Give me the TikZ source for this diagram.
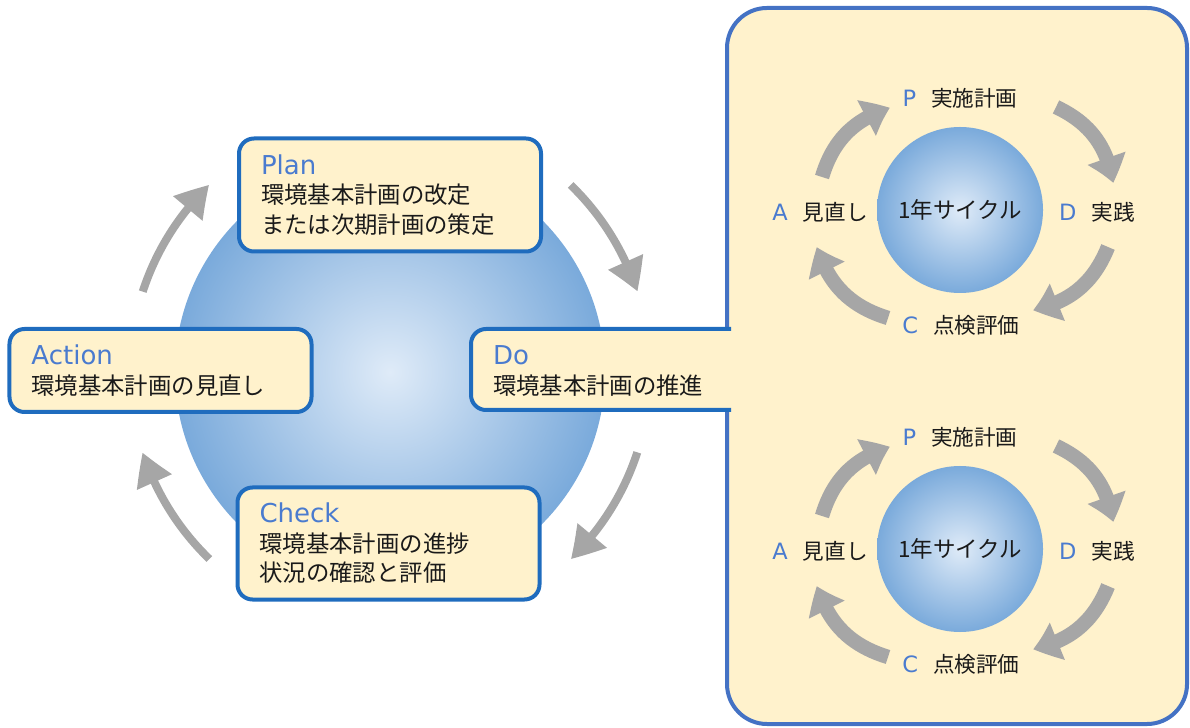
\documentclass[tikz,border=0pt]{standalone}
\usepackage{fontspec}
\setmainfont{Noto Sans CJK JP}
\newfontfamily\pdcalatin{DejaVu Sans}
\usepackage{tikz}
\usetikzlibrary{arrows.meta,bending}
\definecolor{PdcaBorder}{HTML}{1F6CBE}
\definecolor{PdcaFrame}{HTML}{4472C4}
\definecolor{PdcaLabel}{HTML}{4A7BCF}
\definecolor{PdcaFill}{HTML}{FFF2CC}
\definecolor{PdcaArrow}{HTML}{A6A6A6}
\definecolor{PdcaInner}{HTML}{DFEBF8}
\definecolor{PdcaOuter}{HTML}{7AAADB}
\definecolor{PdcaText}{HTML}{1A1A1A}
\newcommand{\pdcahead}[1]{{\pdcalatin\fontsize{14.8pt}{16.8pt}\selectfont\color{PdcaLabel}#1}}
\newcommand{\cycletag}[1]{{\pdcalatin\fontsize{12.8pt}{15pt}\selectfont\color{PdcaLabel}#1}\hspace{3mm}}

\begin{document}
\begin{tikzpicture}[x=0.2mm,y=0.2mm,
    box/.style={draw=PdcaBorder,line width=0.8mm,fill=PdcaFill,rounded corners=3mm,
      inner xsep=4.4mm,inner ysep=0pt,text width=51.6mm,align=left,text=PdcaText,
      font=\fontsize{13.3pt}{16.8pt}\selectfont},
    panel/.style={draw=PdcaFrame,line width=0.8mm,fill=PdcaFill,rounded corners=8mm},
    sphere/.style={circle,inner color=PdcaInner,outer color=PdcaOuter,inner sep=0pt},
    bigarrow/.style={PdcaArrow,line width=1.6mm,-{Triangle[width=7.2mm,length=6.4mm,bend]}},
    ringarrow/.style={PdcaArrow,line width=2.9mm,-{Triangle[width=7.6mm,length=5.2mm,bend]}},
    steplabel/.style={text=PdcaText,font=\fontsize{12.3pt}{14pt}\selectfont,inner sep=0pt}]
      \useasboundingbox (0,0) rectangle (1190,727);
      % main cycle
      \node[sphere,minimum size=86mm] (hub) at (390,355) {};
      \draw[bigarrow] ([shift={(162:260)}]hub.center) arc[start angle=162,end angle=134,radius=52mm];
      \draw[bigarrow] ([shift={(46:260)}]hub.center) arc[start angle=46,end angle=18,radius=52mm];
      \draw[bigarrow] ([shift={(-18:260)}]hub.center) arc[start angle=-18,end angle=-46,radius=52mm];
      \draw[bigarrow] ([shift={(-134:260)}]hub.center) arc[start angle=-134,end angle=-162,radius=52mm];
      \node[box,minimum height=22.6mm] (plan) at (390,532) {\pdcahead{Plan}\\環境基本計画の改定\\または次期計画の策定};
      \node[box,minimum height=16.6mm] (action) at (160.5,356.5) {\pdcahead{Action}\\環境基本計画の見直し};
      \node[box,minimum height=22.4mm] (check) at (388.5,183.5) {\pdcahead{Check}\\環境基本計画の進捗\\状況の確認と評価};
      % yearly panel and Do tab
      \node[panel,minimum width=92mm,minimum height=143.2mm] (panel) at (957,361) {};
      \filldraw[draw=PdcaBorder,line width=0.8mm,fill=PdcaFill,rounded corners=3mm]
        (731,398) -- (471,398) -- (471,317) -- (731,317);
      \node[box,draw=none,fill=none,anchor=west,inner xsep=4mm] (do) at (471,356) {\pdcahead{Do}\\環境基本計画の推進};
      % upper yearly cycle
      \node[sphere,minimum size=33.2mm] (ringtop) at (960,517) {};
      \node[steplabel,font=\fontsize{12.8pt}{14pt}\selectfont] (yeartop) at (ringtop) {1年サイクル};
      \node[steplabel] (ptop) at (960,629) {\cycletag{P}実施計画};
      \node[steplabel] (dtop) at (1097,515) {\cycletag{D}実践};
      \node[steplabel] (ctop) at (961,402) {\cycletag{C}点検評価};
      \node[steplabel] (atop) at (820,515) {\cycletag{A}見直し};
      \draw[ringarrow] ([shift={(-138,33)}]ringtop.center) to[bend left=28] ([shift={(-70,102)}]ringtop.center);
      \draw[ringarrow] ([shift={(96,103)}]ringtop.center) to[bend left=28] ([shift={(153,27)}]ringtop.center);
      \draw[ringarrow] ([shift={(148,-37)}]ringtop.center) to[bend left=28] ([shift={(73,-100)}]ringtop.center);
      \draw[ringarrow] ([shift={(-72,-108)}]ringtop.center) to[bend left=28] ([shift={(-143,-37)}]ringtop.center);
      % lower yearly cycle
      \node[sphere,minimum size=33.2mm] (ringlow) at (960,178) {};
      \node[steplabel,font=\fontsize{12.8pt}{14pt}\selectfont] (yearlow) at (ringlow) {1年サイクル};
      \node[steplabel] (plow) at (960,290) {\cycletag{P}実施計画};
      \node[steplabel] (dlow) at (1097,176) {\cycletag{D}実践};
      \node[steplabel] (clow) at (961,63) {\cycletag{C}点検評価};
      \node[steplabel] (alow) at (820,176) {\cycletag{A}見直し};
      \draw[ringarrow] ([shift={(-138,33)}]ringlow.center) to[bend left=28] ([shift={(-70,102)}]ringlow.center);
      \draw[ringarrow] ([shift={(96,103)}]ringlow.center) to[bend left=28] ([shift={(153,27)}]ringlow.center);
      \draw[ringarrow] ([shift={(148,-37)}]ringlow.center) to[bend left=28] ([shift={(73,-100)}]ringlow.center);
      \draw[ringarrow] ([shift={(-72,-108)}]ringlow.center) to[bend left=28] ([shift={(-143,-37)}]ringlow.center);
    \end{tikzpicture}
\end{document}
